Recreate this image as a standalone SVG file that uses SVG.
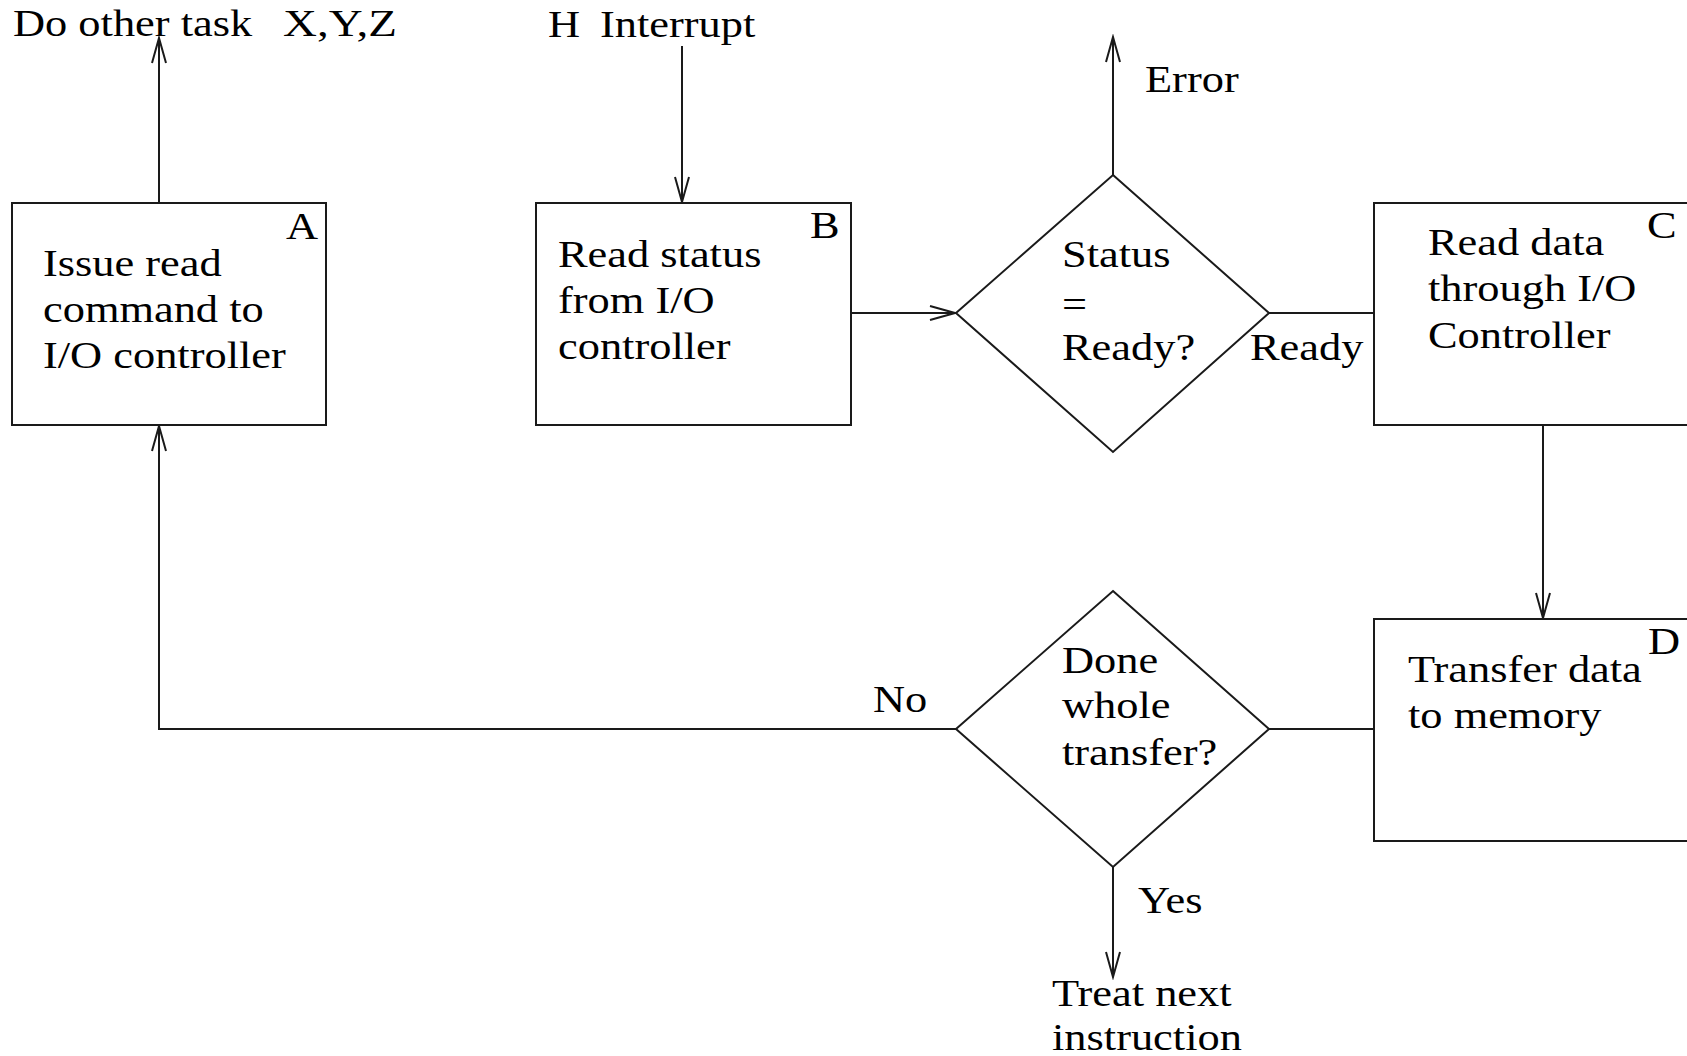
<svg xmlns="http://www.w3.org/2000/svg" width="1687" height="1056" viewBox="0 0 1687 1056">
  <defs>
    <style>
      .shape { fill: #fff; stroke: #1a1a1a; stroke-width: 2; }
      .wire { fill: none; stroke: #1a1a1a; stroke-width: 2; }
      .lbl { font-family: "Liberation Serif", "Times New Roman", serif; font-size: 37px; fill: #000; }
    </style>
    <marker id="arrow" markerUnits="userSpaceOnUse" markerWidth="30" markerHeight="20" viewBox="-27 -10 30 20" refX="0" refY="0" orient="auto">
      <path d="M -25 -7 L 0 0 L -25 7" fill="none" stroke="#1a1a1a" stroke-width="2"/>
    </marker>
  </defs>
  <rect width="1687" height="1056" fill="#fff"/>

  <!-- connectors -->
  <g id="connectors">
    <line class="wire" x1="159" y1="203" x2="159" y2="38" marker-end="url(#arrow)"/>
    <line class="wire" x1="682" y1="46" x2="682" y2="202" marker-end="url(#arrow)"/>
    <line class="wire" x1="851" y1="313" x2="955" y2="313" marker-end="url(#arrow)"/>
    <line class="wire" x1="1113" y1="175" x2="1113" y2="37" marker-end="url(#arrow)"/>
    <line class="wire" x1="1269" y1="313" x2="1374" y2="313"/>
    <line class="wire" x1="1543" y1="425" x2="1543" y2="618" marker-end="url(#arrow)"/>
    <line class="wire" x1="1374" y1="729" x2="1269" y2="729"/>
    <polyline class="wire" points="956,729 159,729 159,426" marker-end="url(#arrow)"/>
    <line class="wire" x1="1113" y1="867" x2="1113" y2="977" marker-end="url(#arrow)"/>
  </g>

  <!-- free labels -->
  <g id="labels">
    <text class="lbl" transform="matrix(1.2 0 0 1 13 36)">Do other task</text>
    <text class="lbl" transform="matrix(1.2 0 0 1 283 36)" textLength="95" lengthAdjust="spacingAndGlyphs">X,Y,Z</text>
    <text class="lbl" transform="matrix(1.2 0 0 1 548 37)">H</text>
    <text class="lbl" transform="matrix(1.2 0 0 1 600 37)">Interrupt</text>
    <text class="lbl" transform="matrix(1.2 0 0 1 1145 92)">Error</text>
    <text class="lbl" transform="matrix(1.2 0 0 1 1250 360)">Ready</text>
    <text class="lbl" transform="matrix(1.2 0 0 1 873 712)">No</text>
    <text class="lbl" transform="matrix(1.2 0 0 1 1138 913)">Yes</text>
    <text class="lbl" transform="matrix(1.2 0 0 1 1052 1006)"><tspan x="0" y="0">Treat next</tspan><tspan x="0" y="44">instruction</tspan></text>
  </g>

  <!-- A: issue read command -->
  <g id="nodeA">
    <rect class="shape" x="12" y="203" width="314" height="222"/>
    <text class="lbl" transform="matrix(1.2 0 0 1 286 239)">A</text>
    <text class="lbl" transform="matrix(1.2 0 0 1 43 276)"><tspan x="0" y="0">Issue read</tspan><tspan x="0" y="46">command to</tspan><tspan x="0" y="92">I/O controller</tspan></text>
  </g>

  <!-- B: read status -->
  <g id="nodeB">
    <rect class="shape" x="536" y="203" width="315" height="222"/>
    <text class="lbl" transform="matrix(1.2 0 0 1 810 238)">B</text>
    <text class="lbl" transform="matrix(1.2 0 0 1 558 267)"><tspan x="0" y="0">Read status</tspan><tspan x="0" y="46">from I/O</tspan><tspan x="0" y="92">controller</tspan></text>
  </g>

  <!-- decision: status ready -->
  <g id="decisionReady">
    <polygon class="shape" points="1113,175 1269,313 1113,452 956,313"/>
    <text class="lbl" transform="matrix(1.2 0 0 1 1062 267)"><tspan x="0" y="0">Status</tspan><tspan x="0" y="50">=</tspan><tspan x="0" y="93">Ready?</tspan></text>
  </g>

  <!-- C: read data -->
  <g id="nodeC">
    <rect class="shape" x="1374" y="203" width="330" height="222"/>
    <text class="lbl" transform="matrix(1.2 0 0 1 1647 238)">C</text>
    <text class="lbl" transform="matrix(1.2 0 0 1 1428 255)"><tspan x="0" y="0">Read data</tspan><tspan x="0" y="46">through I/O</tspan><tspan x="0" y="93">Controller</tspan></text>
  </g>

  <!-- D: transfer data -->
  <g id="nodeD">
    <rect class="shape" x="1374" y="619" width="330" height="222"/>
    <text class="lbl" transform="matrix(1.2 0 0 1 1648 654)">D</text>
    <text class="lbl" transform="matrix(1.2 0 0 1 1408 682)"><tspan x="0" y="0">Transfer data</tspan><tspan x="0" y="46">to memory</tspan></text>
  </g>

  <!-- decision: transfer complete -->
  <g id="decisionDone">
    <polygon class="shape" points="1113,591 1269,729 1113,867 956,729"/>
    <text class="lbl" transform="matrix(1.2 0 0 1 1062 673)"><tspan x="0" y="0">Done</tspan><tspan x="0" y="45">whole</tspan><tspan x="0" y="92">transfer?</tspan></text>
  </g>
</svg>
